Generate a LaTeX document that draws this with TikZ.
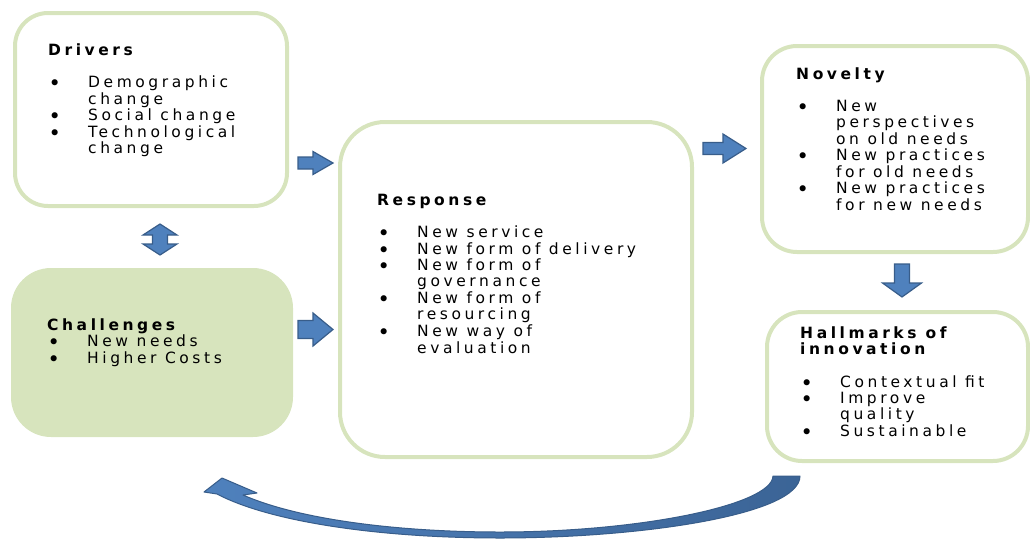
\documentclass[tikz,border=0pt]{standalone}
\usepackage{fontspec}
\setmainfont{DejaVu Sans}[LetterSpace=23]
\definecolor{boxline}{HTML}{D7E4BD}
\definecolor{arrowblue}{HTML}{4F81BD}
\definecolor{arrowedge}{HTML}{385D8A}
\definecolor{arrowdark}{HTML}{3B6496}
% bullet followed by the item indent
\newcommand\bul{\makebox[40pt][l]{\hspace{0.5pt}\smash{\raisebox{-3pt}{\scalebox{1.35}{\textbullet}}}}}
\begin{document}
\begin{tikzpicture}[x=1pt,y=-1pt,
  panel/.style={draw=boxline, line width=4pt, rectangle, inner sep=0pt, outer sep=0pt},
  filledpanel/.style={fill=boxline, rectangle, inner sep=0pt, outer sep=0pt},
  label/.style={anchor=base west, inner sep=0pt, font=\fontsize{15.5}{16}\selectfont},
  arrowshape/.style={fill=arrowblue, draw=arrowedge, line width=1.2pt, line join=miter},
  curvearrow/.style={left color=arrowblue, right color=arrowdark, draw=arrowedge, line width=1pt, line join=round},
  pics/barrow/.style args={#1/#2/#3/#4}{code={
    \path[arrowshape] (0,-#4) -- ({#1-#2},-#4) -- ({#1-#2},-#3) -- (#1,0)
      -- ({#1-#2},#3) -- ({#1-#2},#4) -- (0,#4) -- cycle;}}]
\useasboundingbox (0,0) rectangle (1030,541);

% panels
\node[panel, rounded corners=33pt, minimum width=272pt, minimum height=193pt] (drivers) at (151,109.5) {};
\node[filledpanel, rounded corners=40pt, minimum width=282pt, minimum height=169pt] (challenges) at (152,352.5) {};
\node[panel, rounded corners=45pt, minimum width=352pt, minimum height=335pt] (response) at (516,289.5) {};
\node[panel, rounded corners=35pt, minimum width=266pt, minimum height=206pt] (novelty) at (895,149) {};
\node[panel, rounded corners=35pt, minimum width=261pt, minimum height=149pt] (hallmarks) at (897.5,386.5) {};

% panel texts
\node[label] (driverstext) at (48,55) {\begin{tabular}[t]{@{}l@{}l@{}}
\multicolumn{2}{@{}l@{}}{\bfseries Drivers}\\
\\
\bul & Demographic\\
& change\\
\bul & Social change\\
\bul & Technological\\
& change
\end{tabular}};

\node[label] (challengestext) at (47,330) {\begin{tabular}[t]{@{}l@{}l@{}}
\multicolumn{2}{@{}l@{}}{\bfseries Challenges}\\
\bul & New needs\\
\bul & Higher Costs
\end{tabular}};

\node[label] (responsetext) at (377,205) {\begin{tabular}[t]{@{}l@{}l@{}}
\multicolumn{2}{@{}l@{}}{\bfseries Response}\\
\\
\bul & New service\\
\bul & New form of delivery\\
\bul & New form of\\
& governance\\
\bul & New form of\\
& resourcing\\
\bul & New way of\\
& evaluation
\end{tabular}};

\node[label] (noveltytext) at (796,79) {\begin{tabular}[t]{@{}l@{}l@{}}
\multicolumn{2}{@{}l@{}}{\bfseries Novelty}\\
\\
\bul & New\\
& perspectives\\
& on old needs\\
\bul & New practices\\
& for old needs\\
\bul & New practices\\
& for new needs
\end{tabular}};

\node[label] (hallmarkstext) at (800,338) {\begin{tabular}[t]{@{}l@{}l@{}}
\multicolumn{2}{@{}l@{}}{\bfseries Hallmarks of}\\
\multicolumn{2}{@{}l@{}}{\bfseries innovation}\\
\\
\bul & Contextual fit\\
\bul & Improve\\
& quality\\
\bul & Sustainable
\end{tabular}};

% block arrows between panels
\pic at (298,163) {barrow=35/20/11.5/6};
\pic at (298,329.5) {barrow=35/20/16.5/9};
\pic at (703,148.5) {barrow=43/23/14.5/6};
\pic[rotate=-90] at (902,264) {barrow=33/14/19.5/7.5};

% two-headed arrow between drivers and challenges
\path[arrowshape] (160,224) -- (177,235) -- (167.5,235) -- (167.5,244) -- (177,244)
  -- (160,255) -- (143,244) -- (152.5,244) -- (152.5,235) -- (143,235) -- cycle;

% curved return arrow along the bottom
\path[curvearrow] (800,476) .. controls (800,515) and (640,538) .. (500,538)
  .. controls (380,538) and (270,522) .. (217,494)
  -- (204,492) -- (222,478) -- (257,493) -- (243,495)
  .. controls (300,520) and (400,532) .. (500,532)
  .. controls (640,532) and (772,505) .. (773,476) -- cycle;
\end{tikzpicture}
\end{document}
